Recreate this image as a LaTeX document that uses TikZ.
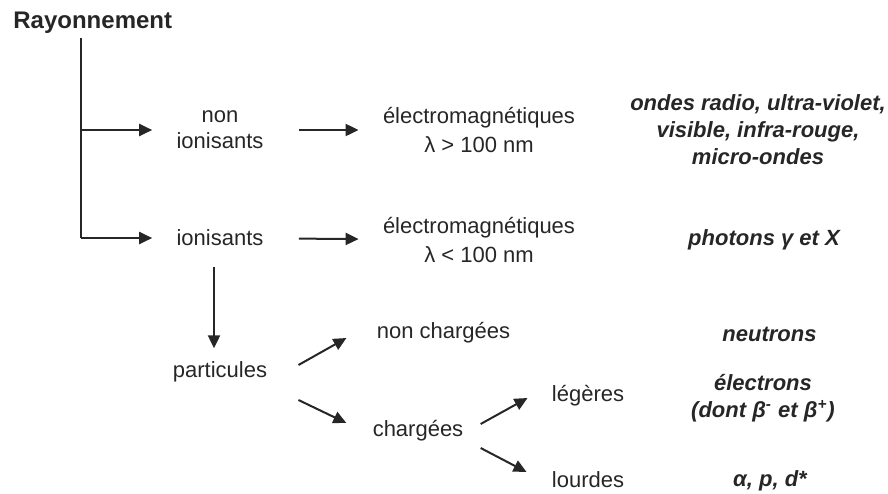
\documentclass[tikz,border=0pt]{standalone}
\usepackage{fontspec}
\setmainfont{Liberation Sans}
\usepackage{tikz}
\usetikzlibrary{arrows.meta,positioning}
\definecolor{ink}{HTML}{262626}
\tikzstyle{txt} = [text=ink, align=center, inner sep=0pt,
    font=\fontsize{11}{13}\selectfont]
\tikzstyle{wave} = [txt, font=\fontsize{11}{14.5}\selectfont]
\tikzstyle{result} = [txt, font=\fontsize{11}{13.5}\selectfont\bfseries\itshape]
\tikzstyle{title} = [text=ink, inner sep=0pt, font=\fontsize{12}{14}\selectfont\bfseries]
\tikzstyle{line} = [draw, color=ink, line width=1pt, -{Triangle[length=6.5pt,width=6pt]}]

\begin{document}
\begin{tikzpicture}[x=0.5pt, y=-0.5pt, node distance=2cm]
  \useasboundingbox (0,0) rectangle (888,493);
    % Place nodes
    \node [title, anchor=west] (ray) at (13,23) {Rayonnement};
    \coordinate (root) at (81,38);
    \node [txt] (nonion) at (220,130) {non\\ionisants};
    \node [wave, right of=nonion, node distance=129.5pt] (emNon) {électromagnétiques\\λ > 100 nm};
    \node [result, right of=emNon, node distance=139.5pt] (ondes) {ondes radio, ultra-violet,\\visible, infra-rouge,\\micro-ondes};
    \node [txt] (ion) at (220,238) {ionisants};
    \node [wave] (emIon) at (479,240) {électromagnétiques\\λ < 100 nm};
    \node [result, right of=emIon, node distance=142.5pt] (photons) {photons γ et X};
    \node [txt, below of=ion, node distance=67pt] (part) {particules};
    \node [txt] (nonch) at (443.5,333) {non chargées};
    \node [result] (neutrons) at (769.5,334) {neutrons};
    \node [txt] (charg) at (418,431) {chargées};
    \node [txt] (leg) at (588,396) {légères};
    \node [result] (electrons) at (763,398) {électrons\\(dont β\textsuperscript{-} et β\textsuperscript{+})};
    \node [txt] (lourd) at (588,480) {lourdes};
    \node [result] (alpha) at (770,481) {α, p, d*};

    % Draw edges
    \draw [color=ink, line width=1pt] (root) -- (root |- ion);
    \path [line, shorten >=12pt] (root |- nonion) -- (nonion);
    \path [line, shorten >=12pt] (root |- ion) -- (ion);
    \path [line, shorten <=17.5pt, shorten >=12pt] (nonion) -- (emNon);
    \path [line, shorten <=17.5pt, shorten >=12pt] (ion) -- (emIon);
    \path [line] ([xshift=-3pt, yshift=-10.5pt]ion.south) -- ([xshift=-3pt, yshift=6.5pt]part.north);
    \path [line] ([shift={(15.5pt,3.5pt)}]part.east) -- ([shift={(-15pt,-2.5pt)}]nonch.west);
    \path [line] ([shift={(15.5pt,-14pt)}]part.east) -- ([shift={(-13pt,4pt)}]charg.west);
    \path [line] ([shift={(8.5pt,3.5pt)}]charg.east) -- ([shift={(-12pt,-1pt)}]leg.west);
    \path [line] ([shift={(8.5pt,-8.5pt)}]charg.east) -- ([shift={(-12.5pt,4pt)}]lourd.west);
\end{tikzpicture}
\end{document}
